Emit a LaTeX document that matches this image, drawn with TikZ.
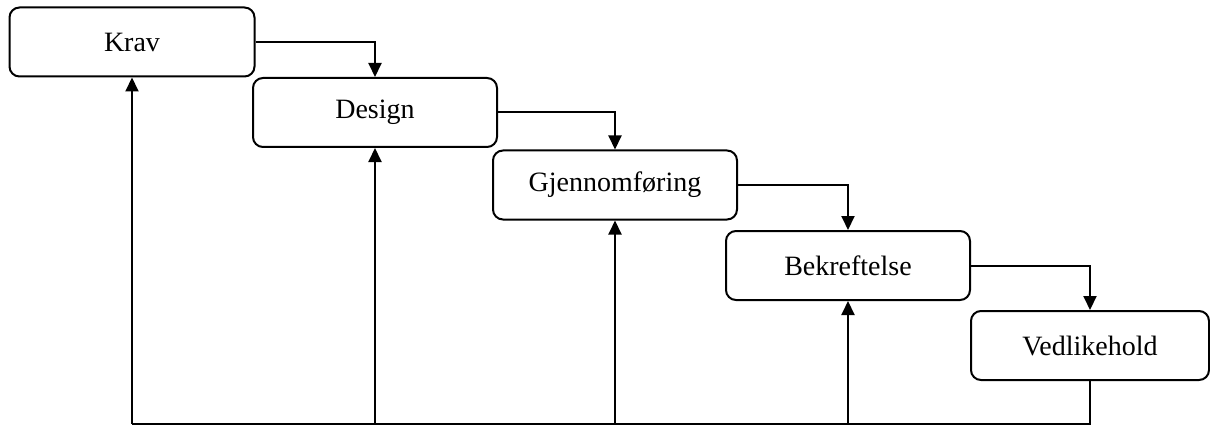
\documentclass[tikz,border=0pt]{standalone}
\usepackage{fontspec}
\setmainfont{Liberation Serif}
\usetikzlibrary{arrows.meta}
\begin{document}
\begin{tikzpicture}[x=1pt,y=-1pt,
  phase/.style={draw, line width=2pt, rounded corners=10pt, minimum height=69pt,
    minimum width=244pt, inner sep=0pt, font=\fontsize{28}{32}\selectfont},
  flow/.style={line width=2pt, -{Triangle[width=13pt,length=14pt]}},
  link/.style={line width=2pt}]
  \useasboundingbox (0,0) rectangle (1210,425);
  % phases of the process
  \node[phase, minimum width=245pt] (krav) at (132,42) {\raisebox{-2pt}{Krav}};
  \node[phase] (design) at (375,112.5) {\raisebox{-2pt}{Design}};
  \node[phase] (gjen) at (615,185) {\raisebox{-2pt}{Gjennomføring}};
  \node[phase] (bekr) at (848,265.5) {\raisebox{-2pt}{Bekreftelse}};
  \node[phase, minimum width=238pt] (vedl) at (1090,345.5) {\raisebox{-2pt}{Vedlikehold}};
  \coordinate (base) at (0,424);
  % forward flow
  \draw[flow] (krav.east) -| (design.north);
  \draw[flow] (design.east) -| (gjen.north);
  \draw[flow] (gjen.east) -| (bekr.north);
  \draw[flow] (bekr.east) -| (vedl.north);
  % feedback loop along the bottom
  \draw[link] (vedl.south) -- (vedl.south |- base) -- (krav.south |- base);
  \draw[flow] (krav.south |- base) -- (krav.south);
  \draw[flow] (design.south |- base) -- (design.south);
  \draw[flow] (gjen.south |- base) -- (gjen.south);
  \draw[flow] (bekr.south |- base) -- (bekr.south);
\end{tikzpicture}
\end{document}
